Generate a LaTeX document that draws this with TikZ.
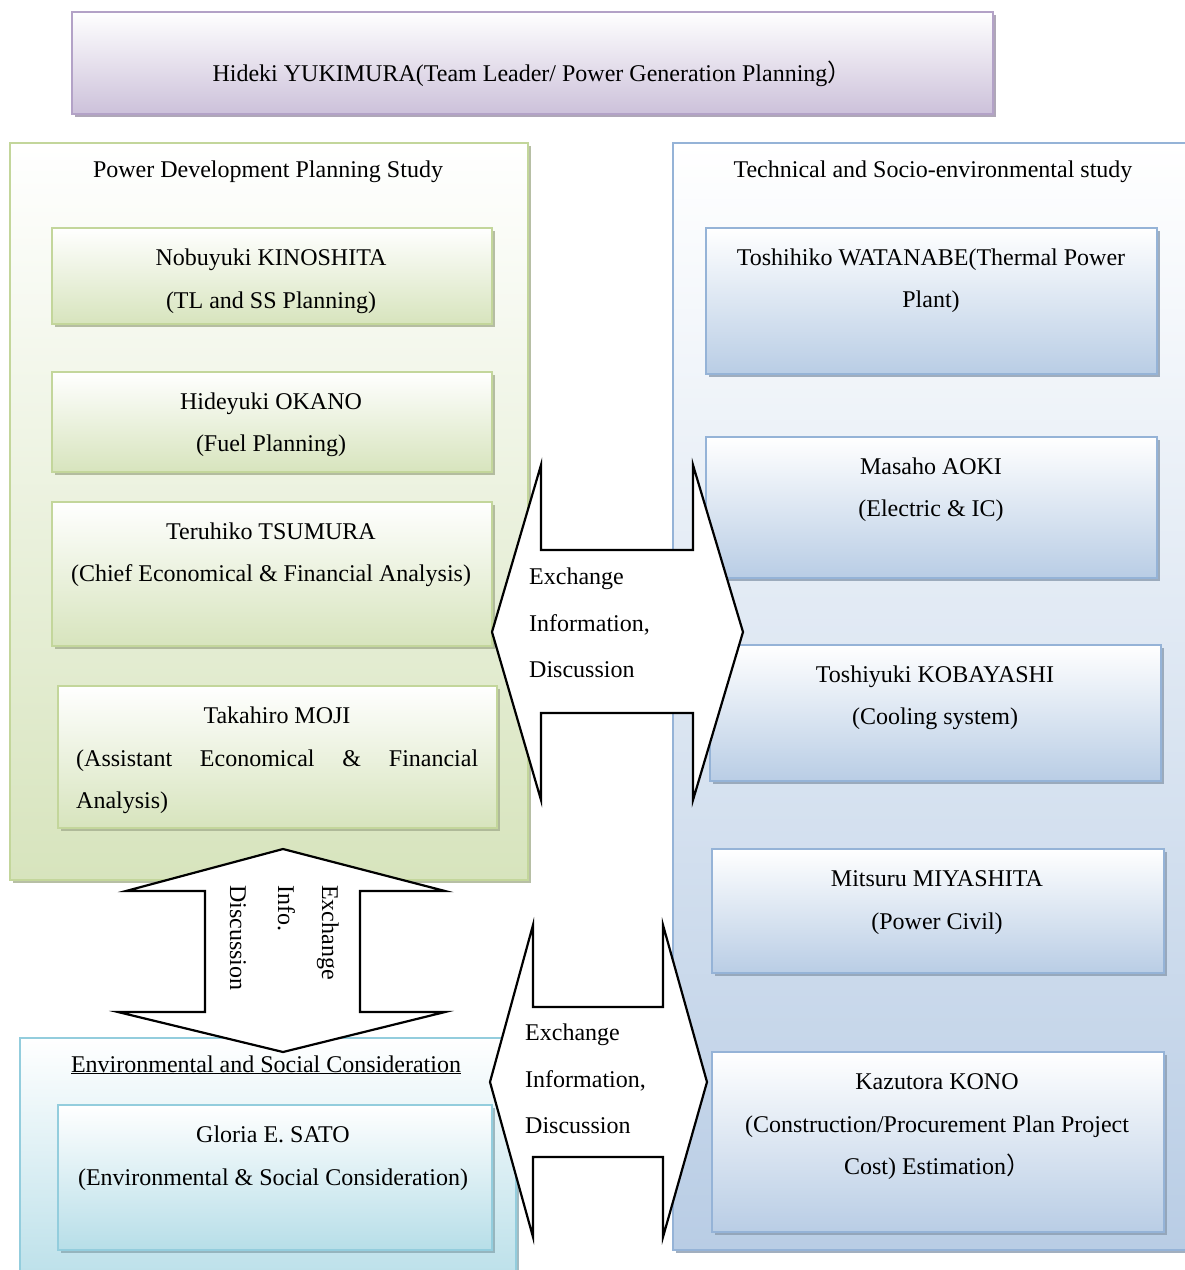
\documentclass[tikz,border=0pt]{standalone}
\usepackage{fontspec}
\setmainfont{Liberation Serif}
\newfontfamily\cjkfont{Noto Sans CJK JP}
\usetikzlibrary{fit}
\definecolor{grnB}{HTML}{C3D69B}
\definecolor{grnF}{HTML}{D7E4BD}
\definecolor{bluB}{HTML}{95B3D7}
\definecolor{bluF}{HTML}{B9CDE5}
\definecolor{cyaB}{HTML}{93CDDD}
\definecolor{cyaF}{HTML}{B7DEE8}
\definecolor{purB}{HTML}{B3A2C7}
\definecolor{purF}{HTML}{CCC1DA}
\newcommand\panelbox[7]{%
  \fill[#2!55!gray, opacity=.8] (#4+3,#5+3) rectangle (#6+3,#7+3);
  \node[fit={(#4,#5) (#6,#7)}, inner sep=0pt, draw=#2, line width=1.8pt,
        top color=white, bottom color=#3] (#1) {};
}
\begin{document}
\begin{tikzpicture}[x=1pt,y=-1pt,
  every node/.style={font=\fontsize{24}{43}\selectfont, inner sep=0pt},
  lbl/.style={anchor=base},
  lblw/.style={anchor=base west},
  bigarrow/.style={draw=black, fill=white, line width=2.2pt, line join=miter}]
\useasboundingbox (0,0) rectangle (1185,1270);
\clip (0,0) rectangle (1185,1270);
\fill[white] (0,0) rectangle (1185,1270);

% group panels
\panelbox{lead}{purB}{purF}{72}{12}{993}{114}
\panelbox{pdps}{grnB}{grnF}{10}{143}{528}{880}
\panelbox{tses}{bluB}{bluF}{673}{143}{1200}{1250}
\panelbox{esc}{cyaB}{cyaF}{20}{1038}{516}{1295}

% left boxes
\panelbox{g1}{grnB}{grnF}{52}{228}{492}{324}
\panelbox{g2}{grnB}{grnF}{52}{372}{492}{472}
\panelbox{g3}{grnB}{grnF}{52}{502}{492}{646}
\panelbox{g4}{grnB}{grnF}{58}{686}{497}{828}
% right boxes
\panelbox{b1}{bluB}{bluF}{706}{228}{1157}{374}
\panelbox{b2}{bluB}{bluF}{706}{437}{1157}{578}
\panelbox{b3}{bluB}{bluF}{710}{645}{1161}{781}
\panelbox{b4}{bluB}{bluF}{712}{849}{1164}{973}
\panelbox{b5}{bluB}{bluF}{712}{1052}{1164}{1232}
% bottom box
\panelbox{c1}{cyaB}{cyaF}{58}{1105}{492}{1250}

% texts
\node[lbl] (tlead) at (532,81) {Hideki YUKIMURA(Team Leader/ Power Generation Planning{\cjkfont ）}};
\node[lbl] (tpdps) at (268,177) {Power Development Planning Study};
\node[lbl] (tg1a) at (271,265) {Nobuyuki KINOSHITA};
\node[lbl] (tg1b) at (271,308) {(TL and SS Planning)};
\node[lbl] (tg2a) at (271,409) {Hideyuki OKANO};
\node[lbl] (tg2b) at (271,451) {(Fuel Planning)};
\node[lbl] (tg3a) at (271,539) {Teruhiko TSUMURA};
\node[lbl] (tg3b) at (271,581) {(Chief Economical \& Financial Analysis)};
\node[lbl] (tg4a) at (277,723) {Takahiro MOJI};
\node[lblw] (tg4b) at (76,766) {\makebox[402pt][s]{(Assistant Economical \& Financial}};
\node[lblw] (tg4c) at (76,808) {Analysis)};

\node[lbl] (ttses) at (933,177) {Technical and Socio-environmental study};
\node[lbl] (tb1a) at (931,265) {Toshihiko WATANABE(Thermal Power};
\node[lbl] (tb1b) at (931,307) {Plant)};
\node[lbl] (tb2a) at (931,474) {Masaho AOKI};
\node[lbl] (tb2b) at (931,516) {(Electric \& IC)};
\node[lbl] (tb3a) at (935,682) {Toshiyuki KOBAYASHI};
\node[lbl] (tb3b) at (935,724) {(Cooling system)};
\node[lbl] (tb4a) at (937,886) {Mitsuru MIYASHITA};
\node[lbl] (tb4b) at (937,929) {(Power Civil)};
\node[lbl] (tb5a) at (937,1089) {Kazutora KONO};
\node[lbl] (tb5b) at (937,1132) {(Construction/Procurement Plan Project};
\node[lbl] (tb5c) at (937,1174) {Cost) Estimation{\cjkfont ）}};

\node[lbl] (tesc) at (266,1072) {\underline{Environmental and Social Consideration}};
\node[lbl] (tc1a) at (273,1142) {Gloria E. SATO};
\node[lbl] (tc1b) at (273,1185) {(Environmental \& Social Consideration)};

% block arrows
\draw[bigarrow] (492,632) -- (541,465) -- (541,550) -- (693,550) -- (693,465)
  -- (743,632) -- (693,800) -- (693,713) -- (541,713) -- (541,800) -- cycle;
\node[lblw] (a1a) at (529,584) {Exchange};
\node[lblw] (a1b) at (529,631) {Information,};
\node[lblw] (a1c) at (529,677) {Discussion};

\draw[bigarrow] (283,849) -- (445,891) -- (360,891) -- (360,1012) -- (445,1012)
  -- (283,1052) -- (118,1012) -- (205,1012) -- (205,891) -- (126,891) -- cycle;
\node[rotate=-90, anchor=base west] (a2a) at (322,885) {Exchange};
\node[rotate=-90, anchor=base west] (a2b) at (278,885) {Info.};
\node[rotate=-90, anchor=base west] (a2c) at (230,885) {Discussion};

\draw[bigarrow] (490,1082) -- (533,925) -- (533,1007) -- (663,1007) -- (663,925)
  -- (707,1082) -- (663,1237) -- (663,1157) -- (533,1157) -- (533,1237) -- cycle;
\node[lblw] (a3a) at (525,1040) {Exchange};
\node[lblw] (a3b) at (525,1087) {Information,};
\node[lblw] (a3c) at (525,1133) {Discussion};
\end{tikzpicture}
\end{document}
